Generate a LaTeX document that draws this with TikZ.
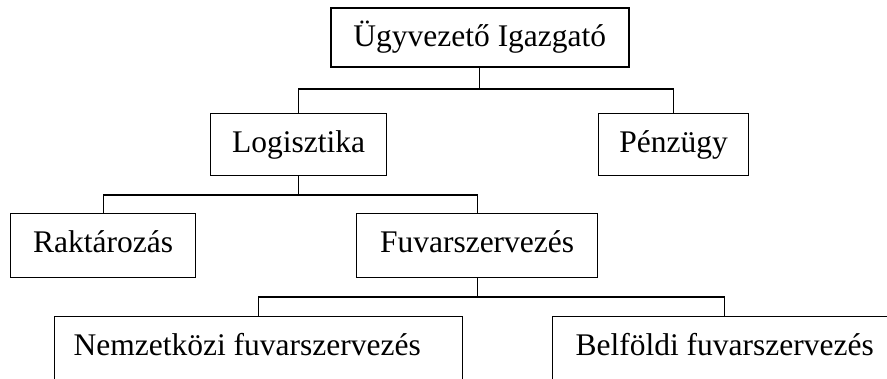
\documentclass[tikz,border=0pt]{standalone}
\usepackage{fontspec}
\setmainfont{Liberation Serif}
\begin{document}
\begin{tikzpicture}[x=1pt,y=1pt,
  box/.style={draw, line width=1.2pt, inner xsep=0pt, inner ysep=0pt, text height=39pt,
    font=\fontsize{31.5}{38}\selectfont, anchor=north west},
  conn/.style={line width=1.1pt}]
\useasboundingbox (0,0) rectangle (887,378);
\clip (0,0) rectangle (887,378);
\node[box, line width=1.6pt, minimum width=298pt, text depth=20pt] (ceo) at (330,371) {Ügyvezető Igazgató};
\node[box, minimum width=176pt, text depth=23pt] (log) at (210,265) {Logisztika};
\node[box, minimum width=150pt, text depth=23pt] (fin) at (598,265) {Pénzügy};
\node[box, minimum width=185pt, text depth=25pt] (rak) at (10,165) {Raktározás};
\node[box, minimum width=241pt, text depth=25pt] (fuv) at (356,165) {Fuvarszervezés};
\node[box, text depth=31pt] (nem) at (54,62) {\makebox[408pt][l]{\hspace*{19pt}Nemzetközi fuvarszervezés}};
\node[box, text depth=31pt] (bel) at (552,62) {\makebox[344pt][l]{\hspace*{23pt}Belföldi fuvarszervezés}};
\coordinate (b1) at (0,289);
\coordinate (b2) at (0,183);
\coordinate (b3) at (0,81);
\draw[conn] (ceo.south) -- (ceo.south |- b1) -| (log.north);
\draw[conn] (ceo.south |- b1) -| (fin.north);
\draw[conn] (log.south) -- (log.south |- b2) -| (rak.north);
\draw[conn] (log.south |- b2) -| (fuv.north);
\draw[conn] (fuv.south) -- (fuv.south |- b3) -| (nem.north);
\draw[conn] (fuv.south |- b3) -| (bel.north);
\end{tikzpicture}
\end{document}
